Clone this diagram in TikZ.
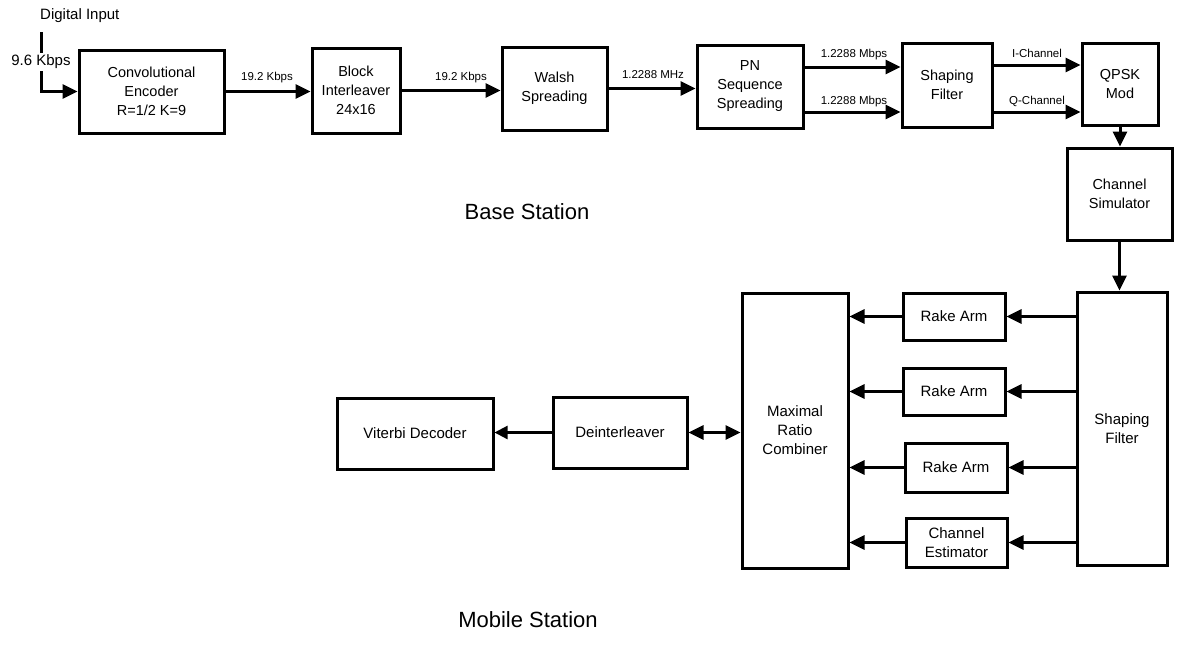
\documentclass[tikz,border=0pt]{standalone}
\usepackage{fontspec}
\setmainfont{Liberation Sans}
\usetikzlibrary{arrows.meta}
\tikzset{
  blk/.style={draw, line width=3pt, align=center, inner sep=0pt, font=\fontsize{14.5}{19}\selectfont},
  blkb/.style={blk, font=\fontsize{15}{19}\selectfont},
  arr/.style={line width=3pt, -{Triangle[length=15pt,width=14pt]}},
  darr/.style={line width=3pt, {Triangle[length=15pt,width=14pt]}-{Triangle[length=15pt,width=14pt]}},
  thinarr/.style={line width=2.2pt, -{Triangle[length=13pt,width=13pt]}},
  lbl/.style={font=\fontsize{11.5}{13}\selectfont, inner sep=0pt},
  big/.style={font=\fontsize{22}{26}\selectfont, inner sep=0pt}
}
\begin{document}
\begin{tikzpicture}[x=1pt,y=-1pt]
\useasboundingbox (0,0) rectangle (1187,662);
% Base station
\node[blk, minimum width=145, minimum height=83] (conv) at (151.5,91.5) {Convolutional\\Encoder\\R=1/2 K=9};
\node[blk, minimum width=88, minimum height=85] (blkint) at (356,90.5) {Block\\Interleaver\\24x16};
\node[blk, minimum width=105, minimum height=83] (walsh) at (554.5,88.5) {Walsh\\Spreading};
\node[blk, minimum width=106, minimum height=83] (pn) at (750,86.5) {PN\\Sequence\\Spreading};
\node[blk, minimum width=90, minimum height=84] (sf1) at (947,85) {Shaping\\Filter};
\node[blk, minimum width=76, minimum height=82] (qpsk) at (1120,84) {QPSK\\Mod};
\node[blk, minimum width=105, minimum height=92] (chsim) at (1119.5,194) {Channel\\Simulator};
% Mobile station
\node[blkb, minimum width=90, minimum height=273] (sf2) at (1122,428.5) {Shaping\\Filter};
\node[blkb, minimum width=102, minimum height=47] (r1) at (954,316.5) {Rake Arm};
\node[blkb, minimum width=102, minimum height=47] (r2) at (954,391.5) {Rake Arm};
\node[blkb, minimum width=102, minimum height=49] (r3) at (956,467.5) {Rake Arm};
\node[blkb, minimum width=101, minimum height=49] (che) at (956.5,542.5) {Channel\\Estimator};
\node[blkb, minimum width=106, minimum height=275] (mrc) at (795,430.5) {Maximal\\Ratio\\Combiner};
\node[blkb, minimum width=134, minimum height=71] (deint) at (620,432.5) {Deinterleaver};
\node[blkb, minimum width=156, minimum height=71] (vit) at (415,433.5) {Viterbi Decoder};
% input
\node[font=\fontsize{15}{17}\selectfont, inner sep=0pt, anchor=west] (din) at (40,16) {Digital Input};
\coordinate (in) at (41,32);
\draw[arr] (in) |- (conv.west);
\node[font=\fontsize{15}{17}\selectfont, fill=white, inner sep=2pt] (rate) at (41,62) {9.6 Kbps};
% top arrows
\draw[arr] (conv.east) -- (conv.east -| blkint.west);
\draw[arr] (blkint.east) -- (blkint.east -| walsh.west);
\draw[arr] (walsh.east) -- (walsh.east -| pn.west);
\draw[arr] ([yshift=19.5pt]pn.east) -- ([yshift=19.5pt]pn.east -| sf1.west);
\draw[arr] ([yshift=-25.5pt]pn.east) -- ([yshift=-25.5pt]pn.east -| sf1.west);
\draw[arr] ([yshift=20pt]sf1.east) -- ([yshift=20pt]sf1.east -| qpsk.west);
\draw[arr] ([yshift=-27pt]sf1.east) -- ([yshift=-27pt]sf1.east -| qpsk.west);
\node[lbl] (l1) at (267,78) {19.2 Kbps};
\node[lbl] (l2) at (461,78) {19.2 Kbps};
\node[lbl] (l3) at (653,75) {1.2288 MHz};
\node[lbl] (l4) at (854,55) {1.2288 Mbps};
\node[lbl] (l5) at (854,102) {1.2288 Mbps};
\node[lbl] (l6) at (1037,53) {I-Channel};
\node[lbl] (l7) at (1037,101) {Q-Channel};
\draw[arr] (qpsk.south) -- (qpsk.south |- chsim.north);
\draw[arr] (chsim.south) -- (chsim.south |- sf2.north);
% rake arrows
\foreach \r in {r1,r2,r3,che}{
  \draw[arr] (sf2.west |- \r.east) -- (\r.east);
  \draw[arr] (\r.west) -- (\r.west -| mrc.east);
}
\draw[darr] (deint.east) -- (deint.east -| mrc.west);
\draw[thinarr] (deint.west) -- (deint.west -| vit.east);
\node[big] (bs) at (527,212) {Base Station};
\node[big] (ms) at (528,620) {Mobile Station};
\end{tikzpicture}
\end{document}
